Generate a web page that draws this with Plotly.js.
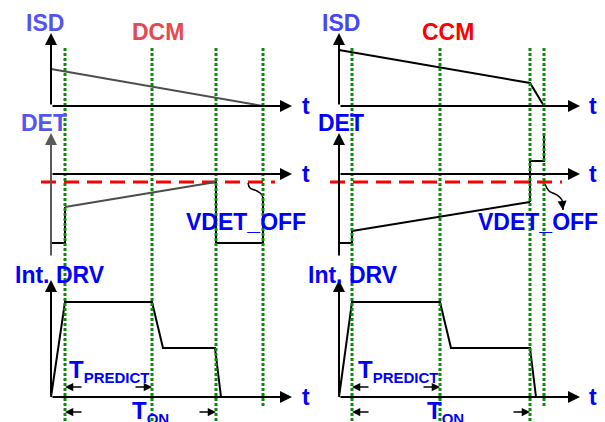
<!DOCTYPE html>
<html><head><meta charset="utf-8">
<script src="https://cdn.plot.ly/plotly-3.0.1.min.js"></script>
<style>html,body{margin:0;padding:0;background:#fff}#chart{width:605px;height:422px}</style>
</head><body><div id="chart"></div>
<script>
// ---- time scale (arbitrary units), one set of event times per mode ----
const modes = ['DCM', 'CCM'];
const edgesDCM = [1.4, 10.1, 16.5, 21.2];   // green timing markers
const edgesCCM = [1.3, 10.1, 19.1, 20.5];
const tAxisEnd = 24.1;

// ---- ISD (secondary current) ----
const isdDCM_t = [0, 21.2];
const isdDCM_v = [3.7, 0];
const isdCCM_t = [0, 19.1, 20.5];
const isdCCM_v = [5.6, 2.3, 0];
const isdAxisTop = 7.3;

// ---- DET voltage ----
const detDCM_t = [0, 1.4, 1.4, 16.5, 16.5, 21.2, 21.2];
const detDCM_v = [-6.9, -6.9, -3.3, -0.8, -6.9, -6.9, -2.3];
const detCCM_t = [0, 1.3, 1.3, 19.1, 19.1, 20.5, 20.5];
const detCCM_v = [-6.9, -6.9, -5.7, -2.8, 1.3, 1.3, 3.9];
const vDetOff = -0.8;
const vdetDCM_t = [-1.0, 22.4];
const vdetCCM_t = [-0.9, 22.3];
const detAxisTop = 4.1, detAxisBottom = -8.3;
// curly pointer to the VDET_OFF crossing
const curlDCM_t = [19.7, 19.9, 20.6, 21.1, 21.2];
const curlDCM_v = [-0.9, -1.4, -1.7, -2.1, -2.8];
const curlCCM_t = [20.6, 21.0, 21.8, 22.3, 22.4];
const curlCCM_v = [-1.0, -1.7, -2.1, -2.6, -3.6];

// ---- Internal driver ----
const drvDCM_t = [0, 1.4, 10.1, 11.2, 16.4, 17.0];
const drvDCM_v = [0, 9.5, 9.5, 4.9, 4.9, 0];
const drvCCM_t = [0, 1.3, 10.1, 11.2, 19.1, 19.7];
const drvCCM_v = [0, 9.5, 9.5, 4.9, 4.9, 0];
const drvAxisTop = 11.7;
const tPredictLevel = 1.0, tOnLevel = -1.5;
const dimArrowLen = 1.8;

// ---- texts ----
const rowLabels = ['ISD', 'DET', 'Int. DRV'];
const vdetLabel = 'VDET_OFF';
const tPredictLabel = 'T<sub><span style="font-size:15px">PREDICT</span></sub>';
const tOnLabel = 'T<sub><span style="font-size:15px">ON</span></sub>';

// ================== build ==================
const W = 605, H = 422;
const px = x => x / W, py = y => 1 - y / H;
const BLUE = '#0000ff', BLACK = '#000000', GREEN = '#0b8a0b';
const FONT = 'Arial, "Liberation Sans", sans-serif';

const traces = [];
const shapes = [];
const ann = [];

const cols = [
  {xa: 'x', name: modes[0], edges: edgesDCM,
   isd: [isdDCM_t, isdDCM_v], det: [detDCM_t, detDCM_v], drv: [drvDCM_t, drvDCM_v],
   vdet: vdetDCM_t, curl: [curlDCM_t, curlDCM_v],
   isdColor: '#4d4d4d', detAxisColor: '#5a5a5a', detColor: BLACK, rampColor: '#4d4d4d',
   isdLblColor: '#5353ee', modeColor: '#e6484e', detLblColor: '#5656ec',
   lblX: {isd: 45, det: 44, drv: 60, mode: 158, t: 306, vdet: 246, tp: 67, ton: 130},
   curlHead: false},
  {xa: 'x2', name: modes[1], edges: edgesCCM,
   isd: [isdCCM_t, isdCCM_v], det: [detCCM_t, detCCM_v], drv: [drvCCM_t, drvCCM_v],
   vdet: vdetCCM_t, curl: [curlCCM_t, curlCCM_v],
   isdColor: BLACK, detAxisColor: BLACK, detColor: BLACK, rampColor: BLACK,
   isdLblColor: '#4646f4', modeColor: '#ff0000', detLblColor: BLUE,
   lblX: {isd: 341, det: 341, drv: 353, mode: 448, t: 593, vdet: 538, tp: 356, ton: 425},
   curlHead: true}
];

const axArrow = (xa, ya, x, y, tx, ty, color, w, size) => ann.push({
  xref: xa, yref: ya, axref: xa, ayref: ya, x: x, y: y, ax: tx, ay: ty,
  text: '', showarrow: true, arrowhead: 2, arrowsize: size, arrowwidth: w,
  arrowcolor: color, standoff: 0, startstandoff: 0
});
const label = (x, y, text, color, size, anchor) => ann.push({
  xref: 'paper', yref: 'paper', x: px(x), y: py(y), text: text, showarrow: false,
  xanchor: anchor || 'center', yanchor: 'middle',
  font: {family: FONT, size: size || 23, color: color, weight: 700}
});

cols.forEach((c, i) => {
  const xa = c.xa;
  // ISD row (yaxis y)
  traces.push({x: c.isd[0], y: c.isd[1], xaxis: xa, yaxis: 'y', mode: 'lines',
    line: {color: c.isdColor, width: 2}, hoverinfo: 'skip'});
  axArrow(xa, 'y', 0, isdAxisTop, 0, 0, BLACK, 2, 1.2);
  axArrow(xa, 'y', tAxisEnd, 0, 0, 0, BLACK, 2, 1.2);
  // DET row (yaxis y2)
  traces.push({x: c.vdet, y: [vDetOff, vDetOff], xaxis: xa, yaxis: 'y2', mode: 'lines',
    line: {color: '#ff0000', width: 3, dash: '15px,8px'}, hoverinfo: 'skip'});
  const dt = c.det[0], dv = c.det[1];
  traces.push({x: dt.slice(0, 3), y: dv.slice(0, 3), xaxis: xa, yaxis: 'y2', mode: 'lines',
    line: {color: c.detColor, width: 2}, hoverinfo: 'skip'});
  traces.push({x: dt.slice(2, 4), y: dv.slice(2, 4), xaxis: xa, yaxis: 'y2', mode: 'lines',
    line: {color: c.rampColor, width: 2}, hoverinfo: 'skip'});
  traces.push({x: dt.slice(3), y: dv.slice(3), xaxis: xa, yaxis: 'y2', mode: 'lines',
    line: {color: c.detColor, width: 2}, hoverinfo: 'skip'});
  axArrow(xa, 'y2', 0, detAxisTop, 0, detAxisBottom, c.detAxisColor, 2, 1.2);
  axArrow(xa, 'y2', tAxisEnd, 0, 0, 0, BLACK, 2, 1.2);
  const ct = c.curl[0], cv = c.curl[1];
  traces.push({x: ct, y: cv, xaxis: xa, yaxis: 'y2', mode: 'lines',
    line: {color: BLACK, width: 1.5, shape: 'spline'}, hoverinfo: 'skip'});
  if (c.curlHead) {
    const n = ct.length - 1;
    axArrow(xa, 'y2', ct[n], cv[n], ct[n - 1], cv[n - 1], BLACK, 1.5, 1.2);
  }
  // DRV row (yaxis y3)
  traces.push({x: c.drv[0], y: c.drv[1], xaxis: xa, yaxis: 'y3', mode: 'lines',
    line: {color: BLACK, width: 2}, hoverinfo: 'skip'});
  axArrow(xa, 'y3', 0, drvAxisTop, 0, 0, BLACK, 2, 1.2);
  axArrow(xa, 'y3', tAxisEnd, 0, 0, 0, BLACK, 2, 1.2);
  // dimension arrows
  const e = c.edges;
  axArrow(xa, 'y3', e[0], tPredictLevel, e[0] + dimArrowLen, tPredictLevel, BLACK, 1.5, 1.1);
  axArrow(xa, 'y3', e[1], tPredictLevel, e[1] - dimArrowLen, tPredictLevel, BLACK, 1.5, 1.1);
  axArrow(xa, 'y3', e[0], tOnLevel, e[0] + dimArrowLen, tOnLevel, BLACK, 1.5, 1.1);
  axArrow(xa, 'y3', e[2], tOnLevel, e[2] - dimArrowLen, tOnLevel, BLACK, 1.5, 1.1);
  // green timing markers
  e.forEach((t, k) => shapes.push({type: 'line', xref: xa, yref: 'paper', x0: t, x1: t,
    y0: py(48), y1: k === 3 ? py(407) : 0, layer: 'above',
    line: {color: GREEN, width: 3, dash: '3px,2px'}}));
  // labels
  const L = c.lblX;
  label(L.isd, 23, rowLabels[0], c.isdLblColor);
  label(L.mode, 32, c.name, c.modeColor);
  label(L.det, 123, rowLabels[1], c.detLblColor);
  label(L.drv, 275, rowLabels[2], BLUE);
  [106, 174, 397].forEach(y => label(L.t, y, 't', BLUE));
  label(L.vdet, 222, vdetLabel, BLUE);
  label(L.tp, 371, tPredictLabel, BLUE, 24, 'left');
  label(L.ton, 412, tOnLabel, BLUE, 24, 'left');
});

const hidden = {visible: false, fixedrange: true};
const layout = {
  width: W, height: H, margin: {l: 0, r: 0, t: 0, b: 0},
  paper_bgcolor: '#ffffff', plot_bgcolor: 'rgba(0,0,0,0)', showlegend: false,
  xaxis: Object.assign({range: [-5.1, 55.4], domain: [0, 1]}, hidden),
  xaxis2: Object.assign({range: [-33.9, 26.6], domain: [0, 1], overlaying: 'x', anchor: 'y'}, hidden),
  yaxis: Object.assign({range: [-31.6, 10.6], domain: [0, 1]}, hidden),
  yaxis2: Object.assign({range: [-24.8, 17.4], domain: [0, 1], overlaying: 'y', anchor: 'x'}, hidden),
  yaxis3: Object.assign({range: [-2.5, 39.7], domain: [0, 1], overlaying: 'y', anchor: 'x'}, hidden),
  shapes: shapes, annotations: ann
};
Plotly.newPlot('chart', traces, layout, {staticPlot: true, displayModeBar: false});
</script></body></html>
